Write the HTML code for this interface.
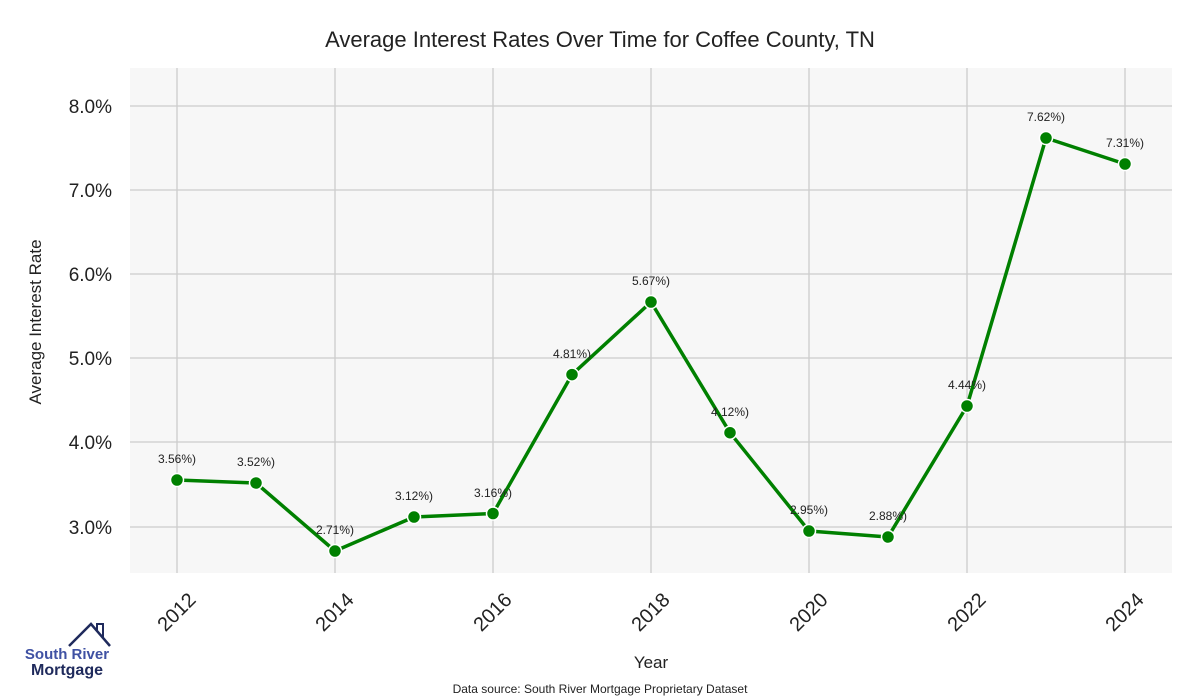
<!DOCTYPE html>
<html><head><meta charset="utf-8"><style>body{margin:0;background:#fff}svg{display:block}</style></head><body>
<svg width="1200" height="700" xmlns="http://www.w3.org/2000/svg" font-family="Liberation Sans, sans-serif">
<rect x="130" y="68" width="1042" height="505" fill="#f7f7f7"/>
<g stroke="#cccccc" stroke-width="1.3">
<line x1="177" y1="68" x2="177" y2="573"/><line x1="335" y1="68" x2="335" y2="573"/><line x1="493" y1="68" x2="493" y2="573"/><line x1="651" y1="68" x2="651" y2="573"/><line x1="809" y1="68" x2="809" y2="573"/><line x1="967" y1="68" x2="967" y2="573"/><line x1="1125" y1="68" x2="1125" y2="573"/>
<line x1="130" y1="106" x2="1172" y2="106"/><line x1="130" y1="190" x2="1172" y2="190"/><line x1="130" y1="274" x2="1172" y2="274"/><line x1="130" y1="358" x2="1172" y2="358"/><line x1="130" y1="442" x2="1172" y2="442"/><line x1="130" y1="527" x2="1172" y2="527"/>
</g>
<text x="600" y="47" text-anchor="middle" font-size="22" fill="#222">Average Interest Rates Over Time for Coffee County, TN</text>
<g font-size="19" fill="#222" text-anchor="end">
<text x="112" y="113">8.0%</text><text x="112" y="197">7.0%</text><text x="112" y="281">6.0%</text><text x="112" y="365">5.0%</text><text x="112" y="449">4.0%</text><text x="112" y="534">3.0%</text>
</g>
<text transform="translate(41,322) rotate(-90)" text-anchor="middle" font-size="17" fill="#222">Average Interest Rate</text>
<g font-size="20" fill="#222" text-anchor="end">
<text transform="translate(197,601) rotate(-45)">2012</text>
<text transform="translate(355,601) rotate(-45)">2014</text>
<text transform="translate(513,601) rotate(-45)">2016</text>
<text transform="translate(671,601) rotate(-45)">2018</text>
<text transform="translate(829,601) rotate(-45)">2020</text>
<text transform="translate(987,601) rotate(-45)">2022</text>
<text transform="translate(1145,601) rotate(-45)">2024</text>
</g>
<text x="651" y="668" text-anchor="middle" font-size="17" fill="#222">Year</text>
<text x="600" y="693" text-anchor="middle" font-size="12" fill="#222">Data source: South River Mortgage Proprietary Dataset</text>
<polyline fill="none" stroke="#008000" stroke-width="3.5" stroke-linejoin="round" points="177,480 256,483 335,551 414,517 493,513.5 572,374.6 651,302 730,432.7 809,531 888,537 967,406 1046,138 1125,164"/>
<g fill="#008000" stroke="#fff" stroke-width="1.5">
<circle cx="177" cy="480" r="6.5"/><circle cx="256" cy="483" r="6.5"/><circle cx="335" cy="551" r="6.5"/><circle cx="414" cy="517" r="6.5"/><circle cx="493" cy="513.5" r="6.5"/><circle cx="572" cy="374.6" r="6.5"/><circle cx="651" cy="302" r="6.5"/><circle cx="730" cy="432.7" r="6.5"/><circle cx="809" cy="531" r="6.5"/><circle cx="888" cy="537" r="6.5"/><circle cx="967" cy="406" r="6.5"/><circle cx="1046" cy="138" r="6.5"/><circle cx="1125" cy="164" r="6.5"/>
</g>
<g font-size="12" fill="#222" text-anchor="middle">
<text x="177" y="463">3.56%)</text><text x="256" y="466">3.52%)</text><text x="335" y="534">2.71%)</text><text x="414" y="500">3.12%)</text><text x="493" y="497">3.16%)</text><text x="572" y="358">4.81%)</text><text x="651" y="285">5.67%)</text><text x="730" y="416">4.12%)</text><text x="809" y="514">2.95%)</text><text x="888" y="520">2.88%)</text><text x="967" y="389">4.44%)</text><text x="1046" y="121">7.62%)</text><text x="1125" y="147">7.31%)</text>
</g>
<polyline fill="none" stroke="#1f2a5c" stroke-width="2.5" points="69,646 91,624 110,646"/>
<polyline fill="none" stroke="#1f2a5c" stroke-width="2" points="97,630 97,624 103,624 103,638"/>
<text x="67" y="659" text-anchor="middle" font-size="15" font-weight="bold" fill="#3f51a3">South River</text>
<text x="67" y="675" text-anchor="middle" font-size="16" font-weight="bold" fill="#1f2a5c">Mortgage</text>
</svg>
</body></html>
